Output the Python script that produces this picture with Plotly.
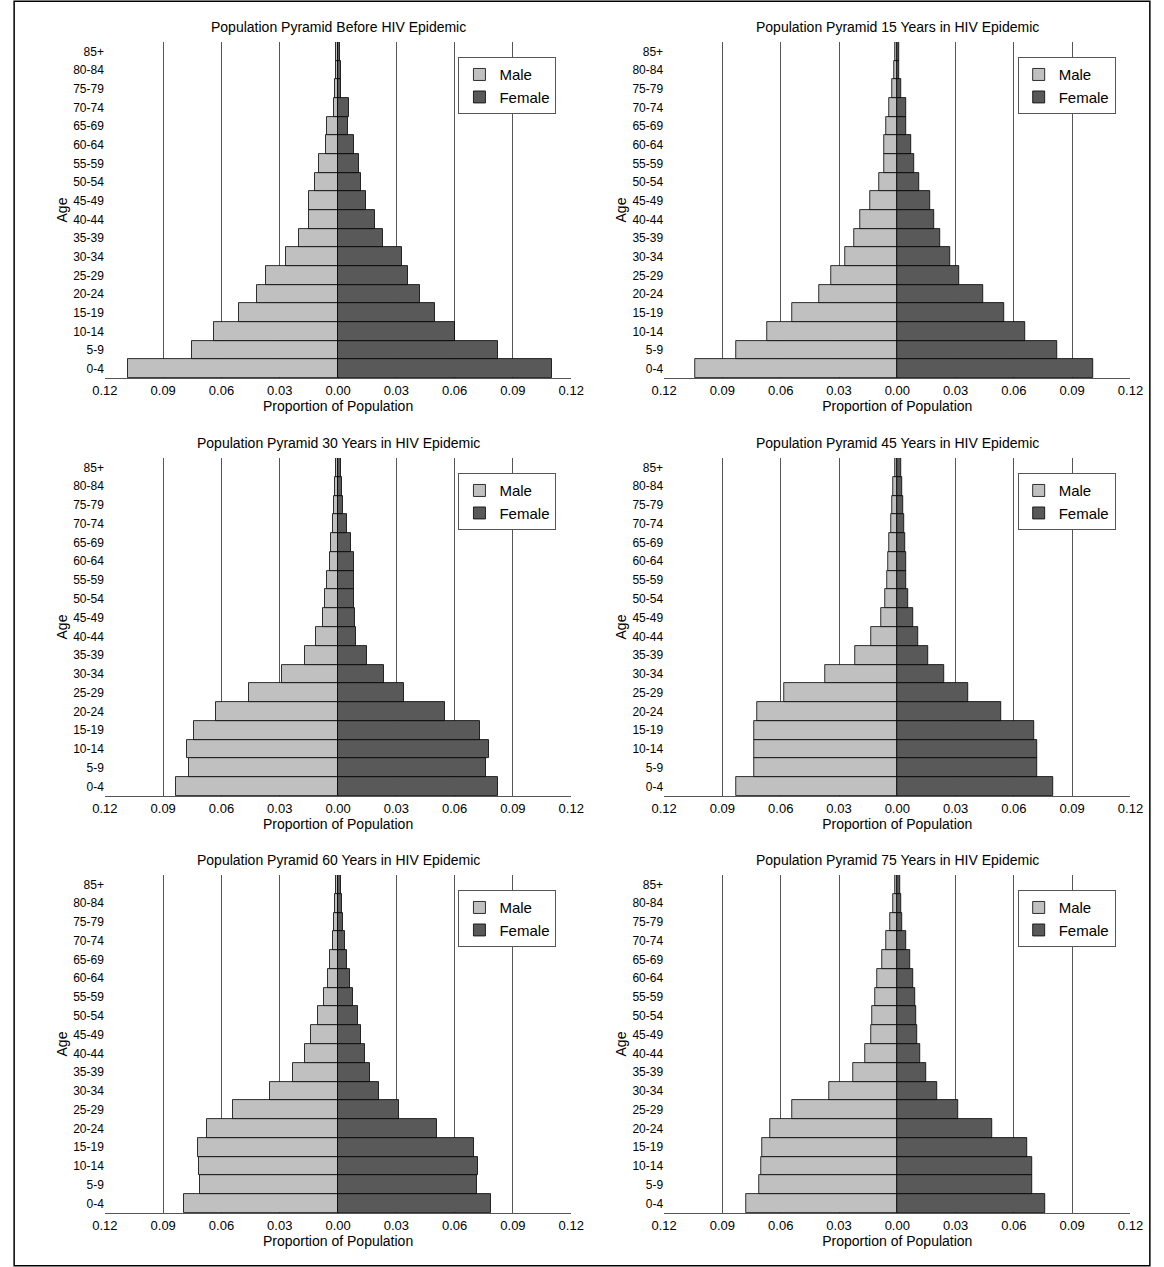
import plotly.graph_objects as go

ages = ["0-4","5-9","10-14","15-19","20-24","25-29","30-34","35-39","40-44","45-49",
        "50-54","55-59","60-64","65-69","70-74","75-79","80-84","85+"]
titles = ["Population Pyramid Before HIV Epidemic","Population Pyramid 15 Years in HIV Epidemic",
          "Population Pyramid 30 Years in HIV Epidemic","Population Pyramid 45 Years in HIV Epidemic",
          "Population Pyramid 60 Years in HIV Epidemic","Population Pyramid 75 Years in HIV Epidemic"]
male_0 = [0.108,0.075,0.064,0.051,0.042,0.037,0.027,0.020,0.015,0.015,0.012,0.010,0.0065,0.0055,0.002,0.0015,0.001,0.001]
female_0 = [0.110,0.0825,0.060,0.050,0.042,0.036,0.033,0.023,0.019,0.0145,0.0115,0.0105,0.008,0.005,0.0055,0.0015,0.0015,0.001]
male_15 = [0.104,0.083,0.067,0.054,0.040,0.034,0.027,0.022,0.019,0.014,0.0095,0.007,0.007,0.0055,0.004,0.0025,0.0015,0.001]
female_15 = [0.101,0.082,0.066,0.055,0.044,0.032,0.027,0.022,0.019,0.017,0.011,0.0085,0.007,0.0045,0.0045,0.002,0.001,0.001]
male_30 = [0.0835,0.077,0.078,0.074,0.063,0.046,0.029,0.017,0.0115,0.008,0.007,0.0055,0.004,0.0035,0.0025,0.002,0.0015,0.001]
female_30 = [0.082,0.076,0.0775,0.073,0.055,0.034,0.0235,0.015,0.009,0.0085,0.008,0.008,0.008,0.0065,0.0045,0.0025,0.002,0.0015]
male_45 = [0.083,0.0735,0.0735,0.0735,0.072,0.058,0.037,0.0215,0.0135,0.0085,0.0065,0.005,0.0045,0.004,0.003,0.0025,0.002,0.001]
female_45 = [0.080,0.072,0.072,0.0705,0.0535,0.0365,0.024,0.016,0.0105,0.008,0.0055,0.0045,0.0045,0.004,0.0035,0.003,0.0025,0.002]
male_60 = [0.0795,0.071,0.0715,0.072,0.0675,0.054,0.035,0.0235,0.017,0.014,0.0105,0.0075,0.005,0.004,0.0025,0.002,0.0015,0.001]
female_60 = [0.0785,0.0715,0.072,0.070,0.051,0.0315,0.021,0.0165,0.014,0.0115,0.010,0.0075,0.006,0.0045,0.0035,0.0025,0.002,0.0015]
male_75 = [0.078,0.071,0.070,0.0695,0.0655,0.054,0.035,0.0225,0.0165,0.0135,0.013,0.0115,0.0105,0.008,0.0055,0.0035,0.002,0.001]
female_75 = [0.076,0.0695,0.0695,0.067,0.049,0.0315,0.0205,0.015,0.0115,0.010,0.0095,0.009,0.008,0.0065,0.0045,0.0025,0.002,0.0015]
males = [male_0,male_15,male_30,male_45,male_60,male_75]
females = [female_0,female_15,female_30,female_45,female_60,female_75]
tickvals = [-0.12,-0.09,-0.06,-0.03,0,0.03,0.06,0.09,0.12]
ticktext = ["0.12","0.09","0.06","0.03","0.00","0.03","0.06","0.09","0.12"]

W, H = 1164, 1267
xdoms = [(94/W, 571/W), (666/W, 1143/W)]
ydoms = [(1-378/H, 1-42/H), (1-796/H, 1-458/H), (1-1213/H, 1-875/H)]
F = "Liberation Sans, Arial, sans-serif"

fig = go.Figure()
layout = dict(autosize=True, margin=dict(l=0, r=0, t=0, b=0), paper_bgcolor="white",
              plot_bgcolor="white", barmode="relative", bargap=0, font=dict(family=F, size=12, color="black"))
annotations = []
shapes = [dict(type="rect", xref="paper", yref="paper", x0=0.001, x1=0.999, y0=0.001, y1=0.999,
               line=dict(color="black", width=1.5))]
for i in range(6):
    r, c = divmod(i, 2)
    sfx = "" if i == 0 else str(i+1)
    xa, ya = "x"+sfx, "y"+sfx
    lg = "legend" + sfx
    fig.add_trace(go.Bar(y=ages, x=[-v for v in males[i]], orientation="h", name="Male",
                         marker=dict(color="#c0c0c0", line=dict(color="black", width=0.8)),
                         xaxis=xa, yaxis=ya, legend=lg))
    fig.add_trace(go.Bar(y=ages, x=females[i], orientation="h", name="Female",
                         marker=dict(color="#595959", line=dict(color="black", width=0.8)),
                         xaxis=xa, yaxis=ya, legend=lg))
    layout["xaxis"+sfx] = dict(domain=xdoms[c], anchor=ya, range=[-0.12, 0.12], tickvals=tickvals,
                               ticktext=ticktext, showgrid=True, gridcolor="#555555", gridwidth=1,
                               zeroline=False, showline=True, linecolor="#555555",
                               ticks="", tickfont=dict(size=13),
                               title=dict(text="Proportion of Population", standoff=0, font=dict(size=14)))
    layout["yaxis"+sfx] = dict(domain=ydoms[r], anchor=xa, showgrid=False, zeroline=False,
                               showline=False, ticks="", tickfont=dict(size=12),
                               title=dict(text="Age", standoff=2, font=dict(size=14)))
    x1 = xdoms[c][1]
    layout[lg] = dict(x=x1 - 0.013, y=ydoms[r][1] - 0.012, xanchor="right", yanchor="top",
                      bgcolor="white", bordercolor="#555555", borderwidth=1,
                      font=dict(size=15), traceorder="normal", itemwidth=30, tracegroupgap=0)
    annotations.append(dict(text=titles[i], xref="paper", yref="paper",
                            x=sum(xdoms[c])/2, y=ydoms[r][1] + 15/H, xanchor="center",
                            yanchor="middle", showarrow=False, font=dict(size=14)))
layout["annotations"] = annotations
layout["shapes"] = shapes
fig.update_layout(**layout)
fig.write_html("out.html", config={"displayModeBar": False, "responsive": True},
               default_width="100vw", default_height="100vh")
with open("out.html", encoding="utf-8") as f:
    html = f.read()
html = html.replace("<head>", "<head><style>html,body{margin:0;padding:0;overflow:hidden;}</style>", 1)
with open("out.html", "w", encoding="utf-8") as f:
    f.write(html)
